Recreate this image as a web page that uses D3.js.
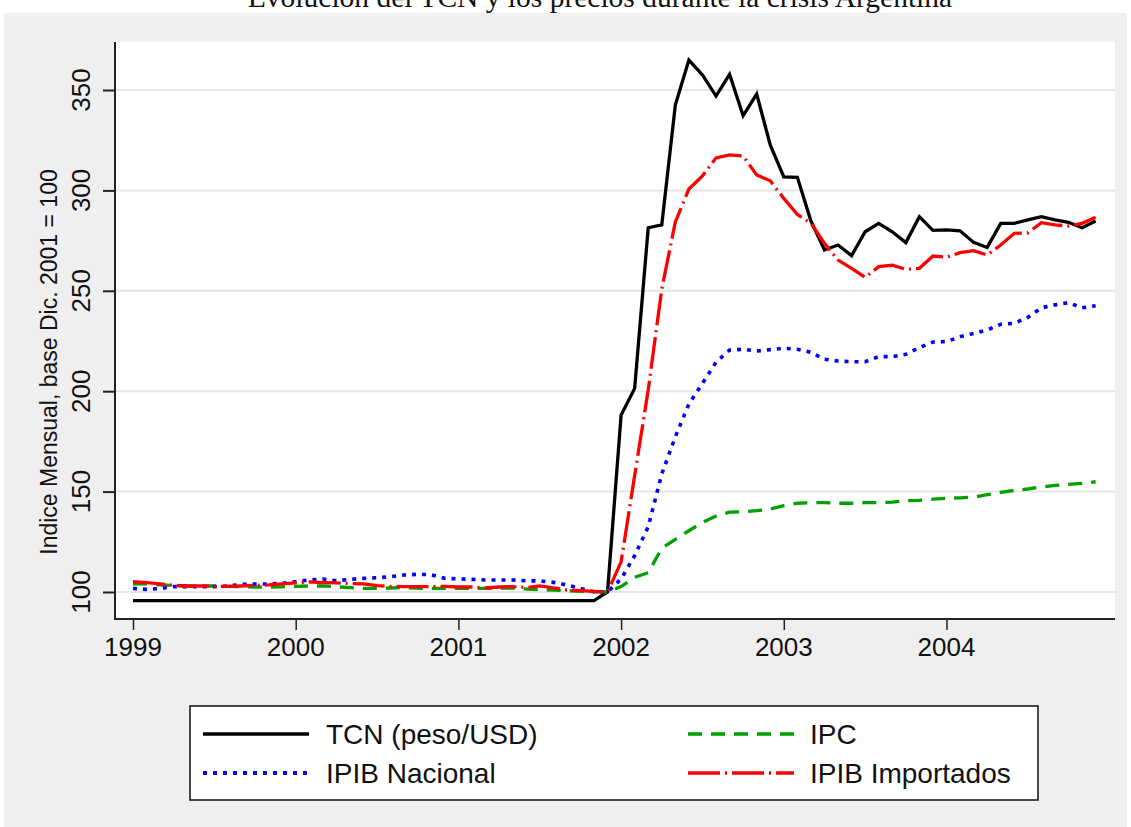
<!DOCTYPE html>
<html>
<head>
<meta charset="utf-8">
<script src="https://cdn.jsdelivr.net/npm/d3@7/dist/d3.min.js"></script>
<style>
  body { margin: 0; background: #ffffff; }
  svg { display: block; }
</style>
</head>
<body>
<div id="chart"></div>
<script>
// months 1999m1 .. 2004m12
startYear = 1999
nMonths = 72

yearTicks = [1999, 2000, 2001, 2002, 2003, 2004]
yearLabels = ["1999", "2000", "2001", "2002", "2003", "2004"]
yTicks = [100, 150, 200, 250, 300, 350]
yLabels = ["100", "150", "200", "250", "300", "350"]

seriesNames = ["TCN (peso/USD)", "IPC", "IPIB Nacional", "IPIB Importados"]

tcn = [95.7, 95.7, 95.7, 95.7, 95.7, 95.7, 95.7, 95.7, 95.7, 95.7,
       95.7, 95.7, 95.7, 95.7, 95.7, 95.7, 95.7, 95.7, 95.7, 95.7,
       95.7, 95.7, 95.7, 95.7, 95.7, 95.7, 95.7, 95.7, 95.7, 95.7,
       95.7, 95.7, 95.7, 95.7, 95.7, 100.0,
       188.1, 201.4, 281.4, 282.8, 342.5, 364.9, 357.5, 347.0, 357.8, 337.2,
       348.0, 322.6, 306.7, 306.5, 284.8, 270.3, 272.8, 267.5, 279.4, 283.6,
       279.4, 274.0, 286.9, 280.1, 280.3, 279.9, 274.1, 271.6, 283.6, 283.6,
       285.3, 286.9, 285.3, 284.1, 281.4, 284.8]

ipc = [104.0, 104.0, 103.6, 103.2, 103.0, 103.0, 103.0, 102.8, 102.6, 102.4,
       102.4, 102.6, 102.8, 103.0, 103.0, 102.6, 102.2, 101.8, 101.8, 102.0,
       102.2, 101.9, 101.8, 101.8, 101.8, 101.8, 101.8, 101.9, 102.0, 101.5,
       101.2, 101.0, 100.7, 100.3, 100.1, 100.0,
       102.7, 107.3, 109.6, 121.8, 126.2, 130.5, 134.7, 137.8, 139.8, 140.0,
       140.5, 141.3, 143.0, 144.2, 144.5, 144.5, 144.2, 144.2, 144.5, 144.5,
       144.8, 145.5, 145.6, 146.2, 146.7, 146.9, 147.2, 148.5, 149.6, 150.6,
       151.3, 152.3, 153.1, 153.6, 154.1, 154.9]

ipibNac = [101.8, 101.3, 101.7, 102.7, 102.7, 102.7, 102.7, 103.0, 103.8, 104.0,
           104.0, 104.3, 105.1, 106.0, 106.5, 105.6, 106.3, 106.8, 107.1, 107.6,
           108.5, 108.8, 108.6, 106.8, 106.5, 106.3, 106.0, 106.0, 106.0, 105.6,
           105.5, 104.8, 103.5, 101.8, 100.1, 100.0,
           106.5, 118.1, 132.5, 158.8, 177.3, 193.6, 203.9, 214.4, 220.5, 220.9,
           220.0, 220.7, 221.4, 220.9, 219.4, 215.9, 215.0, 214.7, 214.7, 217.2,
           217.2, 218.4, 221.7, 224.5, 224.7, 227.1, 228.8, 230.5, 233.3, 233.8,
           236.8, 241.5, 243.0, 244.1, 241.5, 242.6]

ipibImp = [105.1, 104.7, 104.0, 103.3, 103.0, 103.0, 102.8, 102.8, 103.0, 103.3,
           103.5, 104.0, 104.5, 105.0, 104.7, 104.5, 104.2, 104.0, 103.2, 102.8,
           102.7, 102.7, 102.7, 102.8, 102.5, 102.5, 102.0, 102.5, 102.7, 102.2,
           103.0, 102.0, 101.0, 100.7, 100.3, 100.0,
           115.0, 158.0, 200.6, 250.9, 284.3, 300.7, 307.2, 316.2, 317.7, 317.1,
           307.7, 304.8, 296.0, 288.0, 283.6, 273.6, 265.3, 261.2, 256.7, 262.0,
           262.8, 260.7, 261.2, 267.3, 266.7, 269.0, 270.0, 267.8, 272.8, 278.6,
           278.9, 283.9, 282.8, 282.3, 283.6, 286.6]

width = 1131
height = 827

// plot region
plotLeft = 115
plotRight = 1115
plotTop = 42
plotBottom = 619

x = d3.scaleLinear().domain([1999, 2005]).range([133, 1109.2])
y = d3.scaleLinear().domain([100, 350]).range([592, 90])

svg = d3.select("#chart").append("svg")
  .attr("width", width)
  .attr("height", height)

// graph region background
svg.append("rect")
  .attr("x", 4).attr("y", 13)
  .attr("width", 1123).attr("height", 814)
  .attr("fill", "#efefef")

// title (clipped at the top like the original)
svg.append("text")
  .attr("x", 600).attr("y", 7)
  .attr("text-anchor", "middle")
  .attr("font-family", "Liberation Serif, serif")
  .attr("font-size", 29.5)
  .attr("fill", "#111")
  .text("Evolución del TCN y los precios durante la crisis Argentina")

svg.append("rect")
  .attr("x", plotLeft).attr("y", plotTop)
  .attr("width", plotRight - plotLeft).attr("height", plotBottom - plotTop)
  .attr("fill", "#ffffff")

// gridlines
svg.append("g").selectAll("line")
  .data(yTicks).enter()
  .append("line")
  .attr("x1", plotLeft).attr("x2", plotRight)
  .attr("y1", d => y(d)).attr("y2", d => y(d))
  .attr("stroke", "#e6e6e6")
  .attr("stroke-width", 2)

// axes
yAxis = d3.axisLeft(y).tickValues(yTicks).tickSize(12).tickPadding(0)
  .tickFormat((d, i) => "")
xAxis = d3.axisBottom(x).tickValues(yearTicks).tickSize(11).tickFormat((d, i) => "")

gy = svg.append("g").attr("transform", "translate(" + plotLeft + ",0)").call(yAxis)
gy.select(".domain").remove()
gy.selectAll(".tick line").attr("stroke", "#222").attr("stroke-width", 2)

gx = svg.append("g").attr("transform", "translate(0," + plotBottom + ")").call(xAxis)
gx.select(".domain").remove()
gx.selectAll(".tick line").attr("stroke", "#222").attr("stroke-width", 1.5)

svg.append("line")
  .attr("x1", plotLeft).attr("x2", plotLeft)
  .attr("y1", plotTop).attr("y2", plotBottom + 1)
  .attr("stroke", "#222").attr("stroke-width", 2)
svg.append("line")
  .attr("x1", plotLeft - 1).attr("x2", plotRight)
  .attr("y1", plotBottom).attr("y2", plotBottom)
  .attr("stroke", "#222").attr("stroke-width", 2)

// tick labels
svg.append("g").selectAll("text")
  .data(yTicks).enter()
  .append("text")
  .attr("transform", d => "translate(90," + y(d) + ") rotate(-90)")
  .attr("text-anchor", "middle")
  .attr("font-family", "Liberation Sans, Arial, sans-serif")
  .attr("font-size", 26)
  .attr("fill", "#111")
  .text((d, i) => yLabels[i])

svg.append("g").selectAll("text")
  .data(yearTicks).enter()
  .append("text")
  .attr("x", d => x(d)).attr("y", 656)
  .attr("text-anchor", "middle")
  .attr("font-family", "Liberation Sans, Arial, sans-serif")
  .attr("font-size", 26)
  .attr("fill", "#111")
  .text((d, i) => yearLabels[i])

svg.append("text")
  .attr("transform", "translate(57,362) rotate(-90)")
  .attr("text-anchor", "middle")
  .attr("font-family", "Liberation Sans, Arial, sans-serif")
  .attr("font-size", 23)
  .attr("fill", "#111")
  .text("Indice Mensual, base Dic. 2001 = 100")

// series
styles = [
  { values: tcn, color: "#000000", dash: null, w: 3.3 },
  { values: ipc, color: "#00a000", dash: "14,9", w: 3.3 },
  { values: ipibNac, color: "#0000ff", dash: "4,6", w: 3.6 },
  { values: ipibImp, color: "#ff0000", dash: "32,5,2,5", w: 3.3 }
]

line = d3.line()
  .x((d, i) => x(startYear + i / 12))
  .y(d => y(d))

styles.forEach(function(s) {
  svg.append("path")
    .datum(s.values)
    .attr("d", line)
    .attr("fill", "none")
    .attr("stroke", s.color)
    .attr("stroke-width", s.w)
    .attr("stroke-dasharray", s.dash)
    .attr("stroke-linejoin", "miter")
})

// legend
legend = svg.append("g")
legend.append("rect")
  .attr("x", 190).attr("y", 706)
  .attr("width", 848).attr("height", 94)
  .attr("fill", "#ffffff")
  .attr("stroke", "#111")
  .attr("stroke-width", 1.5)

legendPos = [
  { kx: 203, tx: 326, ly: 734 },
  { kx: 688, tx: 810, ly: 734 },
  { kx: 203, tx: 326, ly: 773 },
  { kx: 688, tx: 810, ly: 773 }
]

legendPos.forEach(function(p, k) {
  s = styles[k]
  legend.append("line")
    .attr("x1", p.kx).attr("x2", p.kx + 106)
    .attr("y1", p.ly).attr("y2", p.ly)
    .attr("stroke", s.color)
    .attr("stroke-width", s.w + 0.4)
    .attr("stroke-dasharray", s.dash)
  legend.append("text")
    .attr("x", p.tx).attr("y", p.ly + 10)
    .attr("font-family", "Liberation Sans, Arial, sans-serif")
    .attr("font-size", 28)
    .attr("fill", "#111")
    .text(seriesNames[k])
})
</script>
</body>
</html>
